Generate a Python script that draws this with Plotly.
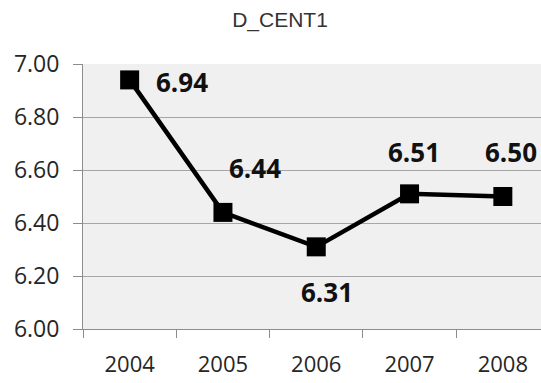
import plotly.graph_objects as go

years = ["2004", "2005", "2006", "2007", "2008"]
values = [6.94, 6.44, 6.31, 6.51, 6.50]
label_texts = ["6.94", "6.44", "6.31", "6.51", "6.50"]
y_ticks = [6.0, 6.2, 6.4, 6.6, 6.8, 7.0]
y_tick_labels = ["6.00", "6.20", "6.40", "6.60", "6.80", "7.00"]

# label offsets (pixels) relative to points
label_shifts = [(52, -2), (32, 44), (11, -45), (4, 42), (8, 45)]

fig = go.Figure()
fig.add_trace(go.Scatter(
    x=years, y=values, mode="lines+markers",
    line=dict(color="black", width=4.5),
    marker=dict(symbol="square", size=19, color="black"),
    showlegend=False, hoverinfo="skip",
))

for i, (yv, t, (dx, dy)) in enumerate(zip(values, label_texts, label_shifts)):
    fig.add_annotation(x=i, y=yv, xref="x", yref="y", text="<b>" + t + "</b>", showarrow=False,
                       xshift=dx, yshift=dy,
                       font=dict(family="Open Sans", size=26, color="#111111"))

fig.update_layout(
    width=541, height=383,
    margin=dict(l=83, r=0, t=64, b=54, autoexpand=False),
    paper_bgcolor="white", plot_bgcolor="#f0f0f0",
    title=dict(text="D_CENT1", x=280/541, xanchor="center", y=1 - 20/383, yanchor="middle",
               font=dict(family="Liberation Sans", size=21, color="#333333")),
    font=dict(family="Open Sans", color="#262626"),
)
fig.update_xaxes(
    type="category", range=[-0.5, 4.409], tickson="boundaries",
    ticks="outside", ticklen=8, tickcolor="#8c8c8c", tickwidth=1,
    showline=True, linecolor="#8c8c8c", linewidth=1, automargin=False,
    showgrid=False, tickfont=dict(size=22, family="Open Sans", color="#262626"),
    ticklabelstandoff=16,
)
fig.update_yaxes(
    range=[6.0, 7.0], tickvals=y_ticks, ticktext=y_tick_labels,
    ticks="outside", ticklen=9, tickcolor="#8c8c8c", tickwidth=1,
    showline=True, linecolor="#8c8c8c", linewidth=1, automargin=False,
    showgrid=True, gridcolor="#a6a6a6", gridwidth=1, zeroline=False,
    tickfont=dict(size=23, family="Open Sans", color="#262626"),
    ticklabelstandoff=9,
)

fig.write_html("out.html", config={"displayModeBar": False},
               post_script="document.body.style.margin='0px';")
